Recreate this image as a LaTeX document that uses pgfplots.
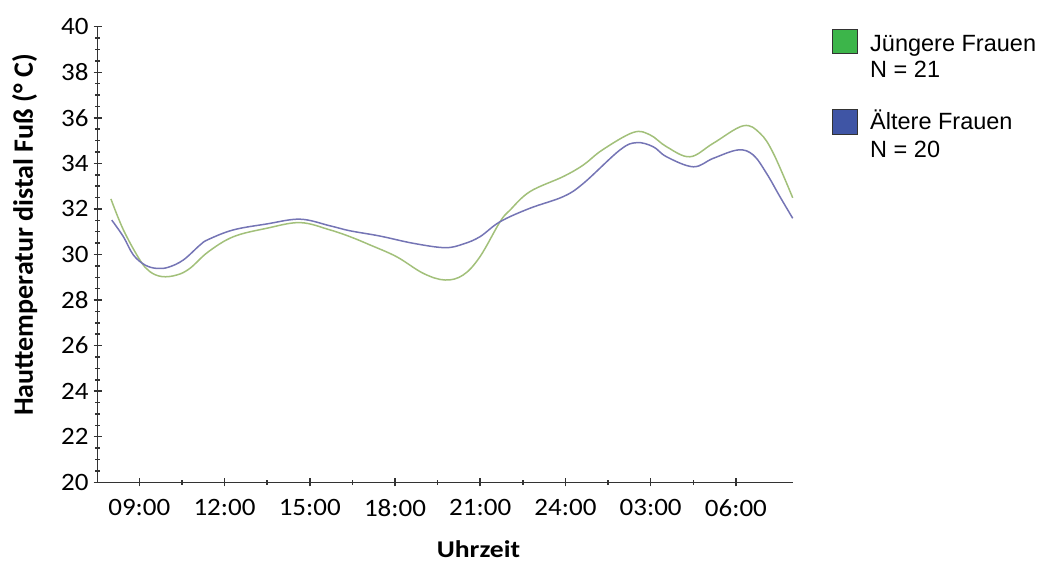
\documentclass[border=0pt]{standalone}
\usepackage{pgfplots}
\pgfplotsset{compat=1.18}
\usepackage{fontspec}
\setmainfont{Carlito}
\newfontfamily\tickfont{Carlito}[FakeStretch=1.08]
\newfontfamily\xlabfont{Carlito}[FakeStretch=1.15]
\newfontfamily\legfont{Liberation Sans}
\definecolor{lgreen}{HTML}{A2C07A}
\definecolor{lblue}{HTML}{7575B5}
\definecolor{boxgreen}{HTML}{3CB54A}
\definecolor{boxblue}{HTML}{3F55A5}
\definecolor{axgray}{HTML}{333333}
\begin{document}
\begin{tikzpicture}
\useasboundingbox (-97.7pt,-80.7pt) rectangle (947.3pt,482.3pt);
\begin{axis}[
  scale only axis,
  width=695pt, height=455.6pt,
  xmin=7.535, xmax=32, ymin=20, ymax=40,
  axis lines=left,
  axis line style={-, color=axgray, line width=1.3pt},
  xtick={9,12,15,18,21,24,27,30},
  xticklabels={09:00,12:00,15:00,18:00,21:00,24:00,03:00,06:00},
  minor x tick num=1,
  ytick={20,22,...,40},
  minor y tick num=3,
  tick align=center,
  major tick length=8pt, minor tick length=5pt,
  tick style={color=axgray, line width=1.5pt},
  /pgf/number format/assume math mode=true,
  ticklabel style={font=\tickfont\fontsize{25}{27}\selectfont, text=black},
  yticklabel style={inner sep=0pt, xshift=-5pt},
  xticklabel style={inner sep=0pt, yshift=-13pt},
  xlabel={Uhrzeit},
  ylabel={Hauttemperatur distal Fuß (° C)},
  every axis x label/.style={at={(axis description cs:0.548,-0.164)}, anchor=base, font=\xlabfont\bfseries\fontsize{24}{26}\selectfont},
  every axis y label/.style={at={(axis description cs:-0.0931,0.543)}, rotate=90, anchor=base, font=\bfseries\fontsize{28}{30}\selectfont},
  clip=false,
]
\addplot[lgreen, line width=1.5pt, smooth, tension=0.6] coordinates {
(8.00,32.44) (8.44,31.08) (9.02,29.76) (9.37,29.25) (9.80,29.03) (10.32,29.10)
(10.78,29.39) (11.43,30.12) (12.31,30.78) (13.48,31.15) (14.66,31.40) (15.71,31.08)
(16.42,30.78) (17.12,30.42) (18.06,29.90) (19.00,29.17) (19.76,28.88) (20.40,29.10)
(20.99,29.90) (21.70,31.44) (22.05,31.95) (22.75,32.76) (23.92,33.42) (24.63,33.93)
(25.30,34.59) (26.39,35.36) (26.98,35.25) (27.56,34.73) (28.38,34.29) (29.20,34.88)
(30.26,35.65) (30.85,35.32) (31.32,34.44) (32.00,32.49)
};
\addplot[lblue, line width=1.5pt, smooth, tension=0.6] coordinates {
(8.03,31.51) (8.44,30.78) (8.79,29.98) (9.20,29.54) (9.61,29.39) (10.02,29.44)
(10.55,29.76) (11.14,30.42) (11.43,30.66) (12.31,31.08) (13.48,31.34) (14.66,31.55)
(15.71,31.26) (16.42,31.04) (17.47,30.81) (18.65,30.49) (19.76,30.30) (20.40,30.46)
(20.99,30.78) (21.70,31.44) (22.75,32.03) (23.92,32.54) (24.63,33.12) (25.92,34.59)
(26.51,34.91) (27.09,34.73) (27.56,34.29) (28.50,33.85) (29.20,34.22) (30.08,34.59)
(30.61,34.37) (31.08,33.56) (31.55,32.54) (32.00,31.59)
};
\end{axis}
\filldraw[fill=boxgreen, draw=axgray, line width=0.8pt] (734.3pt,429.3pt) rectangle (759.3pt,453.3pt);
\filldraw[fill=boxblue, draw=axgray, line width=0.8pt] (734.3pt,348.3pt) rectangle (759.3pt,373.3pt);
\begin{scope}[every node/.style={anchor=base west, inner sep=0pt, font=\legfont\fontsize{23.5}{25}\selectfont}]
\node at (772.3pt,430.3pt) {Jüngere Frauen};
\node at (772.3pt,404.3pt) {N = 21};
\node at (772.3pt,352.3pt) {Ältere Frauen};
\node at (772.3pt,324.3pt) {N = 20};
\end{scope}
\end{tikzpicture}
\end{document}
